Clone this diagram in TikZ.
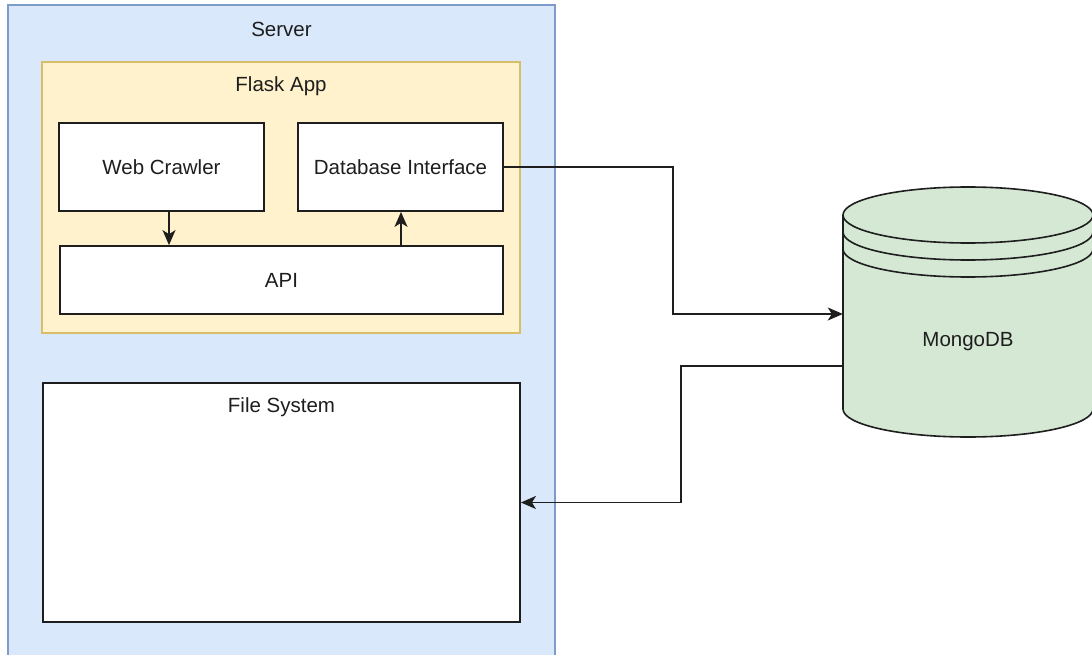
\documentclass[tikz,border=0pt]{standalone}
\usepackage{fontspec}
\setmainfont{Liberation Sans}
\usetikzlibrary{arrows.meta}
\definecolor{srvfill}{HTML}{DAE8FC}
\definecolor{srvline}{HTML}{7E9CC8}
\definecolor{appfill}{HTML}{FFF2CC}
\definecolor{appline}{HTML}{D9BE6A}
\definecolor{dbfill}{HTML}{D5E8D4}
\definecolor{ink}{HTML}{1E1E1E}
\begin{document}
\begin{tikzpicture}[x=1pt,y=-1pt,
  lbl/.style={font=\fontsize{20.5}{24}\selectfont, text=ink, inner sep=0pt},
  box/.style={draw=ink, line width=1.8pt, fill=white, inner sep=0pt, font=\fontsize{20.5}{24}\selectfont, text=ink},
  conn/.style={line width=1.6pt, draw=ink, -{Stealth[length=15pt,width=13pt,inset=4pt]}},
]
\useasboundingbox (0,0) rectangle (1092,655);
\fill[white] (0,0) rectangle (1092,655);
% server container
\draw[fill=srvfill, draw=srvline, line width=1.2pt] (8,5) rectangle (555,680);
\node[lbl] (server) at (281.5,29) {Server};
% flask container
\draw[fill=appfill, draw=appline, line width=1.2pt] (42,62) rectangle (520,333);
\node[lbl] (flask) at (281,86) {Flask App};
% inner boxes
\node[box, minimum width=205pt, minimum height=88pt] (wc) at (161.5,167) {Web Crawler};
\node[box, minimum width=205pt, minimum height=88pt] (dbi) at (400.5,167) {Database Interface};
\node[box, minimum width=443pt, minimum height=68pt] (api) at (281.5,280) {API};
\node[box, minimum width=477pt, minimum height=239pt] (fs) at (281.5,502.5) {};
\node[lbl] (fslbl) at (281.5,407) {File System};
% cylinder
\path[fill=dbfill] (843,215) -- (843,409)
  .. controls (843,424.5) and (899,437) .. (968,437)
  .. controls (1037,437) and (1093,424.5) .. (1093,409)
  -- (1093,215)
  .. controls (1093,199.5) and (1037,187) .. (968,187)
  .. controls (899,187) and (843,199.5) .. (843,215) -- cycle;
\draw[draw=ink, line width=1.6pt] (843,215) -- (843,409)
  .. controls (843,424.5) and (899,437) .. (968,437)
  .. controls (1037,437) and (1093,424.5) .. (1093,409)
  -- (1093,215)
  .. controls (1093,199.5) and (1037,187) .. (968,187)
  .. controls (899,187) and (843,199.5) .. (843,215);
\foreach \c in {215,232,249}{
  \draw[draw=ink, line width=1.6pt] (843,\c)
    .. controls (843,\c+15.5) and (899,\c+28) .. (968,\c+28)
    .. controls (1037,\c+28) and (1093,\c+15.5) .. (1093,\c);
}
\node[lbl, minimum width=250pt] (mongo) at (968,342) {MongoDB};
% connectors
\draw[conn] (wc.south -| 169,0) -- (api.north -| 169,0);
\draw[conn] (api.north -| 401,0) -- (dbi.south -| 401,0);
\draw[conn] (dbi.east) -- (673,167) |- (mongo.west |- 0,314);
\draw[conn] (mongo.west |- 0,366) -- (681,366) |- (fs.east);
\end{tikzpicture}
\end{document}
